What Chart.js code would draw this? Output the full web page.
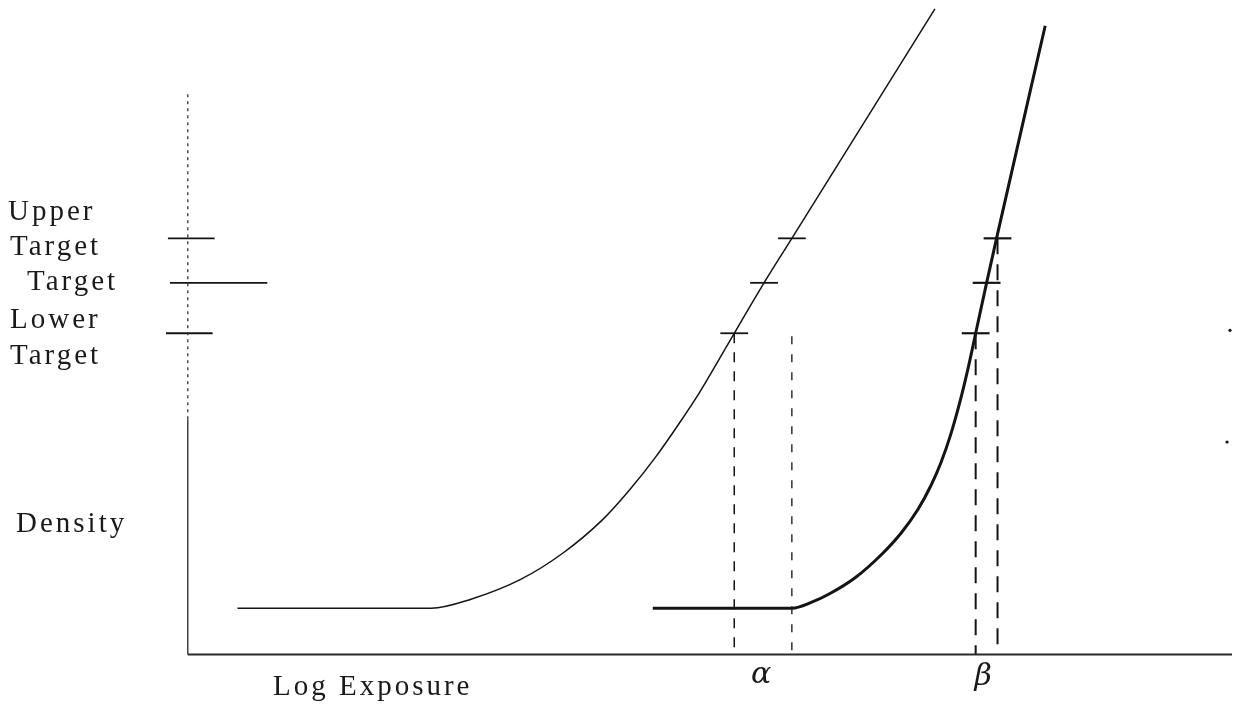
<!DOCTYPE html>
<html>
<head>
<meta charset="utf-8">
<script src="https://cdn.jsdelivr.net/npm/chart.js@4.4.1/dist/chart.umd.min.js"></script>
<style>
  html, body { margin: 0; padding: 0; background: #ffffff; }
  #wrap { width: 1236px; height: 711px; }
</style>
</head>
<body>
<div id="wrap"><canvas id="c" width="1236" height="711"></canvas></div>
<script>
// ---- Data (log exposure on x, density on y; arbitrary units) ----
const curveAX = [0.50, 2.45, 2.85, 3.35, 3.78, 4.17, 4.45, 4.71, 4.94, 5.15, 5.35, 5.50, 5.80, 6.08, 7.52];
const curveAY = [0.47, 0.47, 0.56, 0.76, 1.03, 1.36, 1.67, 2.00, 2.33, 2.65, 2.99, 3.25, 3.76, 4.21, 6.53];
const curveBX = [4.68, 6.08, 6.28, 6.45, 6.72, 6.98, 7.18, 7.35, 7.48, 7.58, 7.68, 7.77, 7.85, 7.93, 8.04, 8.14, 8.63];
const curveBY = [0.47, 0.47, 0.53, 0.61, 0.78, 1.01, 1.23, 1.47, 1.71, 1.94, 2.23, 2.55, 2.88, 3.25, 3.76, 4.21, 6.36];
const targetNames = ["Lower Target", "Target", "Upper Target"];
const targetLevels = [3.25, 3.76, 4.21];
const curveACross = [5.50, 5.80, 6.08];
const curveBCross = [7.93, 8.04, 8.15];
const axisTop = 5.68;
const strayX = [10.49, 10.46];
const strayY = [3.28, 2.15];

const pts = (xs, ys) => xs.map((x, i) => ({ x: x, y: ys[i] }));
const seg = (x0, y0, x1, y1) => [{ x: x0, y: y0 }, { x: x1, y: y1 }];
const INK = '#141414';

const datasets = [];
function line(data, width, dash, color, extra) {
  datasets.push(Object.assign({
    data: data, showLine: true, borderColor: color || INK, borderWidth: width,
    borderDash: dash || [], pointRadius: 0, fill: false, tension: 0, clip: false
  }, extra || {}));
}

// axes
line(seg(0, 0, 10.51, 0), 2, [], '#2a2a2a');
line(seg(0, 0, 0, 2.38), 1.4, [], '#333');
line(seg(0, 2.38, 0, axisTop), 1.3, [3, 4], '#333');

// curves
line(pts(curveAX, curveAY), 1.5, [], INK, { cubicInterpolationMode: 'monotone' });
line(pts(curveBX, curveBY), 3, [], INK, { cubicInterpolationMode: 'monotone' });

// target ticks on density axis
const axisTickLeft = [-0.22, -0.18, -0.20];
const axisTickRight = [0.25, 0.80, 0.27];
targetLevels.forEach((lv, i) => line(seg(axisTickLeft[i], lv, axisTickRight[i], lv), 1.8));

// target crossings on both curves
targetLevels.forEach((lv, i) => {
  line(seg(curveACross[i] - 0.14, lv, curveACross[i] + 0.14, lv), 1.8);
  line(seg(curveBCross[i] - 0.14, lv, curveBCross[i] + 0.14, lv), 2.2);
});

// alpha range (dashed verticals)
line(seg(curveACross[0], targetLevels[0], curveACross[0], 0), 1.5, [10, 9]);
line(seg(curveACross[2], targetLevels[0] - 0.03, curveACross[2], 0), 1.3, [8, 10]);
// beta range
line(seg(curveBCross[0], targetLevels[0], curveBCross[0], 0), 2, [16, 10]);
line(seg(curveBCross[2], targetLevels[2], curveBCross[2], 0), 2, [16, 10]);

// stray scan marks
datasets.push({ data: pts(strayX, strayY), showLine: false, pointRadius: 1.6,
  pointBackgroundColor: INK, pointBorderWidth: 0, clip: false });

const textPlugin = {
  id: 'texts',
  afterDatasetsDraw(chart) {
    const ctx = chart.ctx, xs = chart.scales.x, ys = chart.scales.y;
    const draw = (t, x, y, font, spacing) => {
      ctx.save();
      ctx.font = font;
      ctx.fillStyle = '#1a1a1a';
      ctx.textAlign = 'left';
      ctx.textBaseline = 'middle';
      ctx.letterSpacing = spacing || '0px';
      ctx.fillText(t, x, y);
      ctx.restore();
    };
    const F = '29px "Liberation Serif", serif';
    const S = '3px';
    const yL = ys.getPixelForValue(targetLevels[0]);
    const yT = ys.getPixelForValue(targetLevels[1]);
    const yU = ys.getPixelForValue(targetLevels[2]);
    const up = targetNames[2].split(' '), lo = targetNames[0].split(' ');
    draw(up[0], 8, yU - 26, F, S);
    draw(up[1], 10, yU + 9, F, S);
    draw(targetNames[1], 27, yT, F, S);
    draw(lo[0], 10, yL - 13, F, S);
    draw(lo[1], 10, yL + 23, F, S);
    draw('Density', 16, ys.getPixelForValue(0.6) - 71, F, S);
    draw('Log Exposure', 273, ys.getPixelForValue(0) + 33, F, S);
    const xa = (xs.getPixelForValue(curveACross[0]) + xs.getPixelForValue(curveACross[2])) / 2;
    const xb = (xs.getPixelForValue(curveBCross[0]) + xs.getPixelForValue(curveBCross[2])) / 2;
    draw('\u03b1', xa - 12, ys.getPixelForValue(0) + 21, 'italic 30px "DejaVu Serif", serif');
    draw('\u03b2', xb - 12, ys.getPixelForValue(0) + 23, 'italic 30px "DejaVu Serif", serif');
  }
};

new Chart(document.getElementById('c'), {
  type: 'scatter',
  data: { datasets: datasets },
  options: {
    responsive: false,
    animation: false,
    devicePixelRatio: 1,
    layout: { padding: 0 },
    plugins: { legend: { display: false }, tooltip: { enabled: false } },
    scales: {
      x: { type: 'linear', min: -1.85, max: 10.51, display: false },
      y: { type: 'linear', min: -0.53, max: 6.58, display: false }
    }
  },
  plugins: [textPlugin]
});
</script>
</body>
</html>
